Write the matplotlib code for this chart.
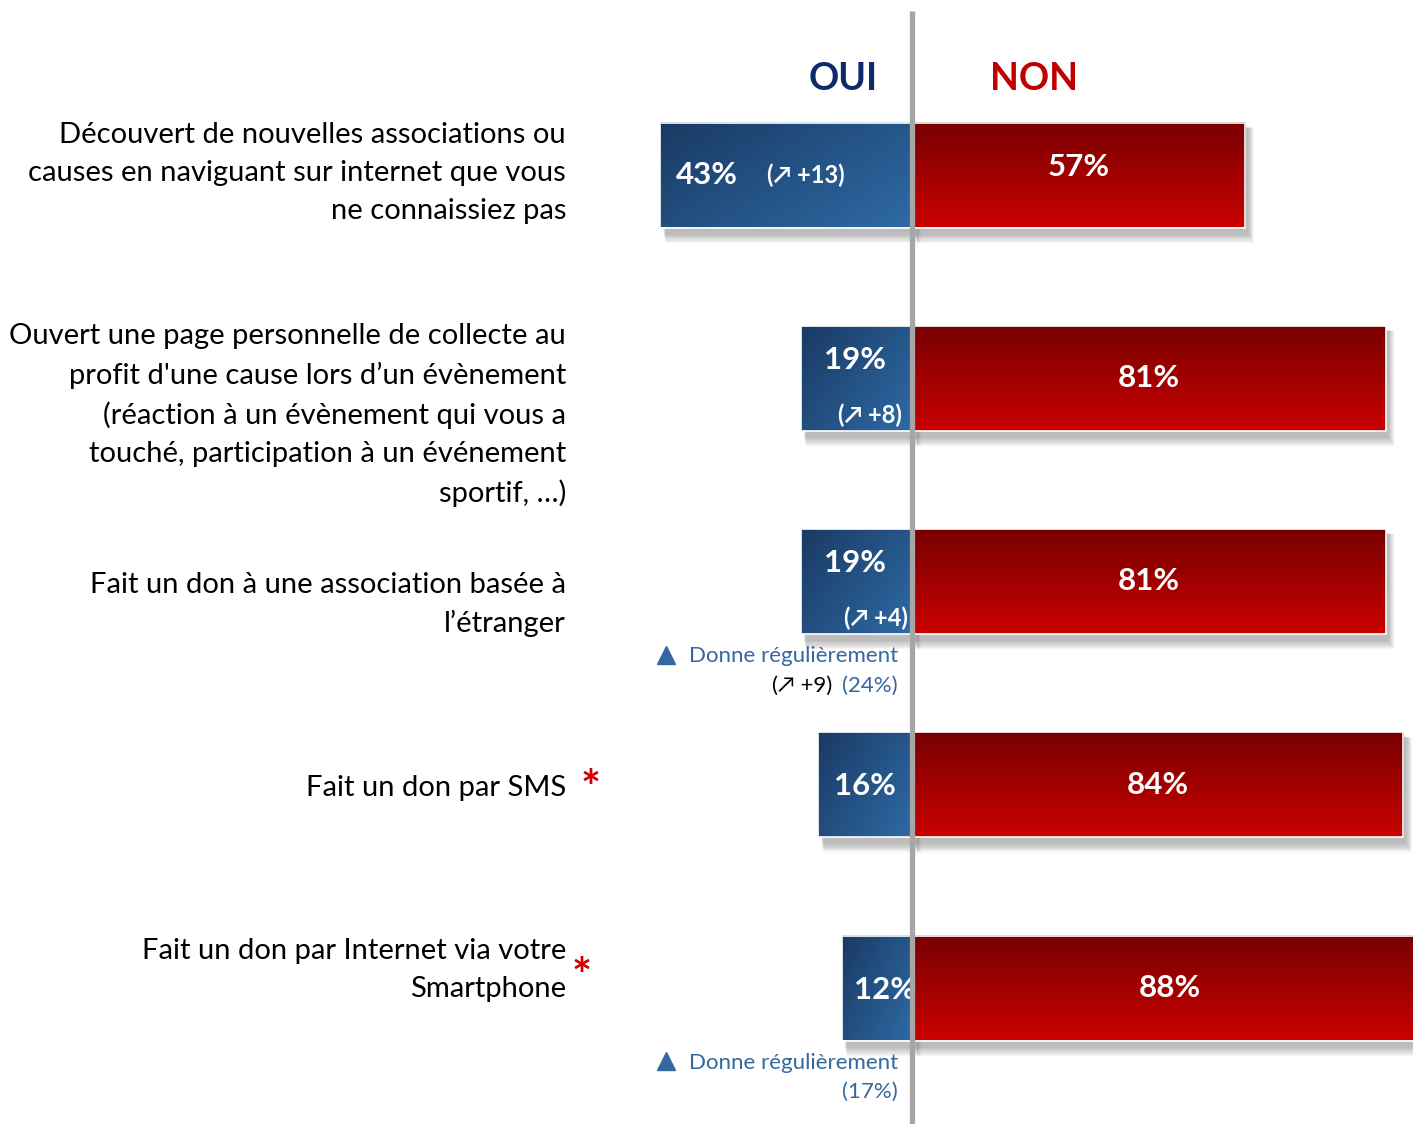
import numpy as np
import matplotlib
matplotlib.use("Agg")
import matplotlib.pyplot as plt
from matplotlib.patches import Rectangle

plt.rcParams['font.family'] = ['Lato', 'DejaVu Sans']

# --- data -------------------------------------------------------------
categories = [
    "Découvert de nouvelles associations ou\ncauses en naviguant sur internet que vous\nne connaissiez pas",
    "Ouvert une page personnelle de collecte au\nprofit d'une cause lors d’un évènement\n(réaction à un évènement qui vous a\ntouché, participation à un événement\nsportif, …)",
    "Fait un don à une association basée à\nl’étranger",
    "Fait un don par SMS",
    "Fait un don par Internet via votre\nSmartphone",
]
oui = [43, 19, 19, 16, 12]
non = [57, 81, 81, 84, 88]
evolution = ["+13", "+8", "+4", None, None]
regular_share = [None, None, 24, None, 17]
regular_evol = [None, None, "+9", None, None]
starred = [False, False, False, True, True]

# --- layout -----------------------------------------------------------
W, H = 1413, 1124
PX_PER_PCT = 5.85          # horizontal scale
ROW_PX = 203.25            # vertical distance between rows
CENTER_PX = 912
FIRST_ROW_PX = 175

fig = plt.figure(figsize=(W / 100, H / 100), dpi=100)
ax = fig.add_axes([0, 0, 1, 1])
ax.set_xlim(-CENTER_PX / PX_PER_PCT, (W - CENTER_PX) / PX_PER_PCT)
ax.set_ylim((H - FIRST_ROW_PX) / ROW_PX, -FIRST_ROW_PX / ROW_PX)
ax.axis("off")

px_x = 1 / PX_PER_PCT      # one pixel in x data units
px_y = 1 / ROW_PX          # one pixel in y data units
bar_h = 105 * px_y

BLUE_DARK = np.array([26, 58, 100]) / 255
BLUE_LIGHT = np.array([46, 106, 164]) / 255
RED_DARK = np.array([120, 0, 0]) / 255
RED_LIGHT = np.array([202, 0, 0]) / 255
LABEL_BLUE = "#3567a0"


def diag_gradient(c0, c1, n=64):
    u = np.linspace(0, 1, n)
    t = (u[None, :] * 0.6 + u[:, None] * 0.4)
    return c0[None, None, :] * (1 - t[..., None]) + c1[None, None, :] * t[..., None]


def vert_gradient(c0, c1, n=64):
    t = np.linspace(0, 1, n)[:, None] * np.ones((1, 4))
    return c0[None, None, :] * (1 - t[..., None]) + c1[None, None, :] * t[..., None]


def shadow(x0, x1, y0, y1):
    # soft drop shadow under and right of a bar
    for k in range(8):
        grow = k * 1.0
        ax.add_patch(Rectangle((x0 + (3 + grow * 0.3) * px_x, y0 + (4 + grow * 0.2) * px_y),
                               (x1 - x0) + grow * 0.5 * px_x,
                               (y1 - y0) + (3 + grow) * px_y,
                               facecolor="black", edgecolor="none", alpha=0.035, zorder=1))


def gradient_bar(x0, x1, yc, img):
    y0, y1 = yc - bar_h / 2, yc + bar_h / 2
    shadow(x0, x1, y0, y1)
    ax.imshow(img, extent=(x0, x1, y1, y0), origin="upper", aspect="auto",
              interpolation="bilinear", zorder=2)
    ax.add_patch(Rectangle((x0, y0), x1 - x0, y1 - y0, facecolor="none",
                           edgecolor="white", linewidth=1.2, zorder=3))


label_offsets = [-2, 37, 23, 3, -18]   # vertical shift of each label block, px
evol_right = [None, 10, 4, None, None] # gap between evolution text and divider, px
star_pos = [None, None, None, (591, 5), (582, -10)]   # asterisk x (px) and y shift (px)
blue_img = diag_gradient(BLUE_DARK, BLUE_LIGHT)
red_img = vert_gradient(RED_DARK, RED_LIGHT)

VAL_FS = 22.5
EVO_FS = 17

for i, (cat, o, n) in enumerate(zip(categories, oui, non)):
    yc = i
    gradient_bar(-o, 0, yc, blue_img)
    gradient_bar(0, n, yc, red_img)

    # category label
    ax.text(-(CENTER_PX - 566) * px_x, yc + label_offsets[i] * px_y, cat,
            ha="right", va="center", fontsize=21, color="black", linespacing=1.56)
    if starred[i]:
        sx, sy = star_pos[i]
        ax.text(-(CENTER_PX - sx) * px_x, yc + sy * px_y, "*",
                ha="center", va="center", fontsize=34, fontweight="bold", color="#d00000")

    # NON value
    ax.text(n / 2, yc - (8 if i == 0 else 0) * px_y, f"{n}%", ha="center", va="center",
            fontsize=VAL_FS, fontweight="bold", color="white", zorder=5)

    # OUI value and evolution
    if i == 0:
        ax.text(-o + 15 * px_x, yc, f"{o}%", ha="left", va="center",
                fontsize=VAL_FS, fontweight="bold", color="white", zorder=5)
        ax.text(-o + 107 * px_x, yc, f"(↗ {evolution[i]})", ha="left", va="center",
                fontsize=EVO_FS, fontweight="bold", color="white", zorder=5)
    elif evolution[i] is not None:
        ax.text(-o / 2 - 1 * px_x, yc - 18 * px_y, f"{o}%", ha="center", va="center",
                fontsize=VAL_FS, fontweight="bold", color="white", zorder=5)
        ax.text(-evol_right[i] * px_x, yc + 37 * px_y, f"(↗ {evolution[i]})", ha="right",
                va="center", fontsize=EVO_FS, fontweight="bold", color="white", zorder=5)
    elif i == 4:
        ax.text(-o + 12 * px_x, yc + 2 * px_y, f"{o}%", ha="left", va="center",
                fontsize=VAL_FS, fontweight="bold", color="white", zorder=5)
    else:
        ax.text(-o / 2, yc + 1 * px_y, f"{o}%", ha="center", va="center",
                fontsize=VAL_FS, fontweight="bold", color="white", zorder=5)

    # regular donors note
    if regular_share[i] is not None:
        ty = yc + 75 * px_y
        ax.plot([-(CENTER_PX - 666) * px_x], [ty - 2 * px_y], marker="^", markersize=13,
                color=LABEL_BLUE, linestyle="none", zorder=5)
        ax.text(-14 * px_x, ty, "Donne régulièrement", ha="right", va="center",
                fontsize=16, color=LABEL_BLUE, zorder=5)
        ax.text(-14 * px_x, ty + 29 * px_y, f"({regular_share[i]}%)", ha="right", va="center",
                fontsize=16, color=LABEL_BLUE, zorder=5)
        if regular_evol[i] is not None:
            ax.text(-80 * px_x, ty + 29 * px_y, f"(↗ {regular_evol[i]})", ha="right",
                    va="center", fontsize=16, color="black", zorder=5)

# column headers
head_y = (79 - FIRST_ROW_PX) * px_y
ax.text(-(CENTER_PX - 843) * px_x, head_y, "OUI", ha="center", va="center",
        fontsize=27, fontweight="bold", color="#0e2a6a")
ax.text((1034 - CENTER_PX) * px_x, head_y, "NON", ha="center", va="center",
        fontsize=27, fontweight="bold", color="#c00000")

# central divider
ax.plot([0, 0], [(11 - FIRST_ROW_PX) * px_y, (H - FIRST_ROW_PX) * px_y],
        color="#a6a6a6", linewidth=3.8, solid_capstyle="butt", zorder=6)

fig.savefig("out.png", dpi=100, facecolor="white")
